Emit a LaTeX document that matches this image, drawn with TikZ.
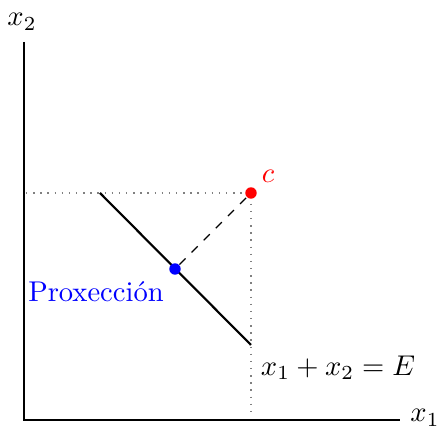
\documentclass[tikz,border=0pt]{standalone}
\begin{document}
\begin{tikzpicture}[x=0.35pt,y=-0.35pt,
  axis/.style={line width=0.75pt},
  budget/.style={line width=0.75pt},
  guide/.style={dotted,gray,line width=0.5pt},
  proj/.style={dashed,line width=0.4pt},
  dotc/.style={circle,fill=#1,inner sep=0pt,minimum size=4pt}]
\useasboundingbox (0,0) rectangle (440,428);
\coordinate (O) at (24,420);
\coordinate (ytop) at (24,42);
\coordinate (xend) at (400,420);
\draw[axis] (ytop) -- (O) -- (xend);
\node (x2) at (22,22) {$x_2$};
\node (x1) at (425,418) {$x_1$};
\coordinate (gl) at (26,193);
\coordinate (gb) at (251,416);
\coordinate (cc) at (251,193);
\draw[guide] (gl) -- (cc) -- (gb);
\coordinate (la) at (100,193);
\coordinate (lb) at (251,345);
\draw[budget] (la) -- (lb);
\node[dotc=blue] (p) at (175,269) {};
\node[dotc=red] (c) at (cc) {};
\draw[proj] (p) -- (c);
\node[text=red] (cl) at (268,176) {$c$};
\node[text=blue] (pl) at (96,292) {Proxección};
\node (eq) at (338,368) {$x_1+x_2=E$};
\end{tikzpicture}
\end{document}
